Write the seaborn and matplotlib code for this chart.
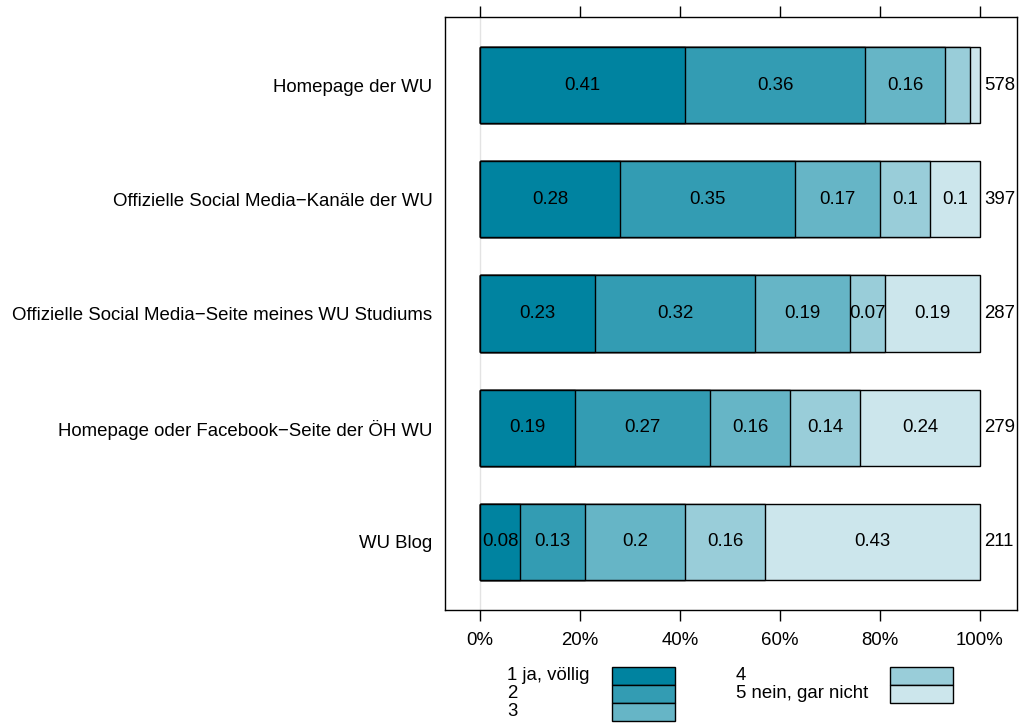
import numpy as np
import matplotlib
matplotlib.use("Agg")
import matplotlib.pyplot as plt
from matplotlib.patches import Rectangle
import seaborn as sns
import pandas as pd

# data (shares per answer level)
items = ["Homepage der WU",
         "Offizielle Social Media\u2212Kanäle der WU",
         "Offizielle Social Media\u2212Seite meines WU Studiums",
         "Homepage oder Facebook\u2212Seite der ÖH WU",
         "WU Blog"]
levels = ["1 ja, völlig", "2", "3", "4", "5 nein, gar nicht"]
lvl1 = [0.41, 0.28, 0.23, 0.19, 0.08]
lvl2 = [0.36, 0.35, 0.32, 0.27, 0.13]
lvl3 = [0.16, 0.17, 0.19, 0.16, 0.20]
lvl4 = [0.05, 0.10, 0.07, 0.14, 0.16]
lvl5 = [0.02, 0.10, 0.19, 0.24, 0.43]
counts = [578, 397, 287, 279, 211]
colors = ["#0083A0", "#339CB3", "#66B5C6", "#99CDD9", "#CCE6EC"]

sns.set_style("white")
plt.rcParams["font.family"] = ["Liberation Sans", "DejaVu Sans"]
plt.rcParams["font.size"] = 13.4
for k in ["text.color", "axes.labelcolor", "xtick.color", "ytick.color"]:
    plt.rcParams[k] = "black"

shares = pd.DataFrame(dict(zip(levels, [lvl1, lvl2, lvl3, lvl4, lvl5])), index=items)
cum = shares.cumsum(axis=1)

fig = plt.figure(figsize=(10.19, 7.24), dpi=100)
ax = fig.add_axes([445 / 1019, 1 - 610 / 724, 572 / 1019, 593 / 724])

# faint reference line at 0
ax.axvline(0, color="#e3e3e3", lw=1, zorder=0)

# stacked bars: draw cumulative sums from the longest to the shortest
for lev, col in zip(levels[::-1], colors[::-1]):
    d = pd.DataFrame({"item": items, "val": cum[lev].values})
    sns.barplot(data=d, y="item", x="val", color=col, orient="h",
                width=0.667, edgecolor="black", linewidth=1,
                saturation=1, ax=ax, zorder=2)

# segment labels
for i, item in enumerate(items):
    left = 0.0
    for lev in levels:
        v = shares.loc[item, lev]
        if v >= 0.07:
            ax.text(left + v / 2, i, f"{round(v, 2):g}", ha="center",
                    va="center", zorder=3)
        left += v
    ax.text(1.009, i, str(counts[i]), ha="left", va="center", zorder=3)

ax.set_xlim(-0.07, 1.074)
ax.set_ylim(4.6, -0.6)
ax.set_xlabel("")
ax.set_ylabel("")
ticks = [0, 0.2, 0.4, 0.6, 0.8, 1.0]
ax.set_xticks(ticks)
ax.set_xticklabels([f"{int(t * 100)}%" for t in ticks])
ax.tick_params(axis="x", which="both", bottom=True, top=True, direction="out",
               length=8, width=1, color="black", pad=8)
ax.tick_params(axis="y", length=0, pad=9)
for s in ax.spines.values():
    s.set_visible(True)
    s.set_color("black")
    s.set_linewidth(1)

# legend drawn below the plot: labels left, stacked colour keys right
def legend_col(labels, cols, x_text, x_box, top=667):
    for k, (lab, col) in enumerate(zip(labels, cols)):
        y0 = top + 18 * k
        fig.text(x_text / 1019, 1 - (y0 + 9) / 724, lab, ha="left", va="center")
        fig.patches.append(Rectangle((x_box / 1019, 1 - (y0 + 18) / 724),
                                     63 / 1019, 18 / 724, facecolor=col,
                                     edgecolor="black", linewidth=1,
                                     transform=fig.transFigure, figure=fig))

legend_col(levels[:3], colors[:3], 507, 612)
legend_col(levels[3:], colors[3:], 736, 890)

fig.savefig("out.png", dpi=100)
